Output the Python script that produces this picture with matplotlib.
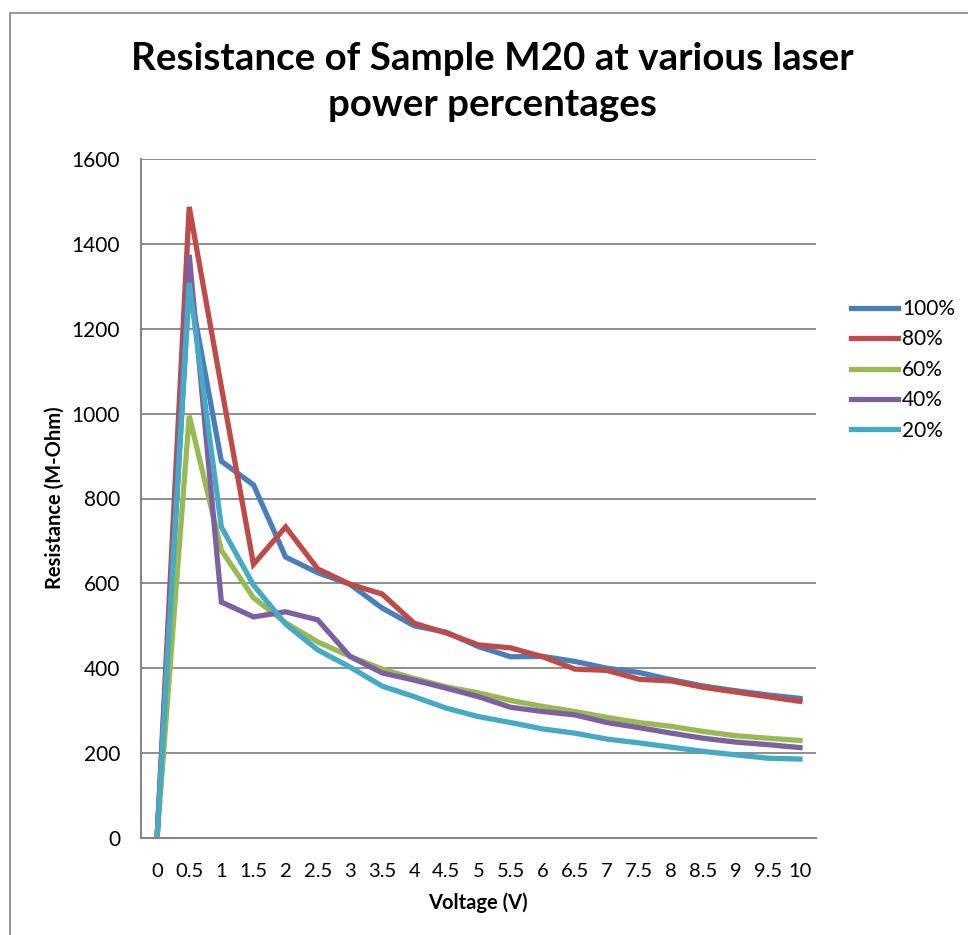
import numpy as np
import matplotlib
matplotlib.use('Agg')
import matplotlib.pyplot as plt
from matplotlib.patches import Rectangle

plt.rcParams['font.family'] = ['Lato', 'DejaVu Sans']

# Voltage steps (V) used as categories on the x axis
voltage = ['0', '0.5', '1', '1.5', '2', '2.5', '3', '3.5', '4', '4.5', '5',
           '5.5', '6', '6.5', '7', '7.5', '8', '8.5', '9', '9.5', '10']

# Resistance (M-Ohm) for each laser power setting
r100 = [0, 1300, 888, 832, 662, 625, 598, 542, 500, 485, 451,
        427, 428, 416, 400, 390, 373, 358, 347, 337, 329]
r80 = [0, 1487, 1063, 645, 733, 634, 598, 575, 506, 483, 455,
       448, 427, 398, 395, 374, 370, 355, 344, 333, 322]
r60 = [0, 995, 678, 566, 507, 462, 428, 398, 376, 356, 342,
       324, 310, 298, 284, 272, 263, 251, 241, 235, 230]
r40 = [0, 1374, 556, 521, 533, 514, 428, 389, 372, 353, 333,
       308, 298, 290, 272, 260, 247, 235, 226, 220, 213]
r20 = [0, 1308, 733, 596, 504, 443, 403, 358, 333, 306, 286,
       272, 257, 247, 233, 224, 214, 204, 196, 188, 186]

series = [('100%', r100, '#4A7EBB'),
          ('80%', r80, '#BE4B48'),
          ('60%', r60, '#98B954'),
          ('40%', r40, '#7D60A0'),
          ('20%', r20, '#46AAC5')]

fig = plt.figure(figsize=(9.68, 9.35), dpi=100)
ax = fig.add_axes([141/968, 1 - 838/935, 675/968, 679/935])

x = np.arange(len(voltage))
for name, vals, col in series:
    ax.plot(x, vals, color=col, lw=3.8, label=name, solid_joinstyle='miter')

ax.set_xlim(-0.5, len(voltage) - 0.5)
ax.set_ylim(0, 1600)
ax.set_yticks(np.arange(0, 1601, 200))
ax.set_xticks(x)
ax.set_xticklabels(voltage)
ax.tick_params(axis='y', length=0, pad=15, labelsize=15)
ax.tick_params(axis='x', length=0, pad=18, labelsize=14.5)

ax.grid(axis='y', color='#868686', lw=1.3)
ax.set_axisbelow(True)
for side in ['top', 'right']:
    ax.spines[side].set_visible(False)
for side in ['left', 'bottom']:
    ax.spines[side].set_color('#868686')
    ax.spines[side].set_linewidth(1.5)

fig.text(492/968, 1 - 82/935, 'Resistance of Sample M20 at various laser\npower percentages',
         ha='center', va='center', fontsize=27.7, fontweight='bold', linespacing=1.4)
fig.text(478/968, 1 - 903/935, 'Voltage (V)', ha='center', va='center',
         fontsize=14.5, fontweight='bold')
fig.text(55/968, 1 - 498/935, 'Resistance (M-Ohm)', ha='center', va='center',
         rotation=90, fontsize=14.5, fontweight='bold')

leg = fig.legend(loc='upper left', bbox_to_anchor=(851/968, 1 - 299/935),
                 frameon=False, fontsize=15, handlelength=2.25, borderpad=0,
                 borderaxespad=0, handletextpad=0.2, labelspacing=0.5)

# outer chart frame
fig.patches.append(Rectangle((10/968, -0.1), 1.2, 1.1 - 13/935,
                             transform=fig.transFigure, fill=False,
                             edgecolor='#868686', lw=1.2))

fig.savefig('out.png', dpi=100)
